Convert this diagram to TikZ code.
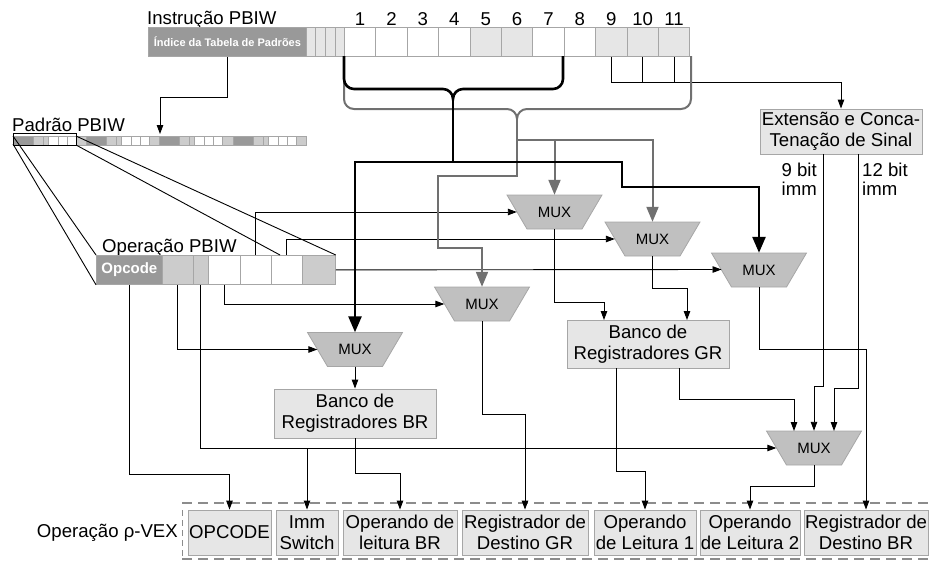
\documentclass[tikz,border=0pt]{standalone}
\usepackage{fontspec}
\setmainfont{Liberation Sans}
\usetikzlibrary{arrows.meta}
\definecolor{dk}{HTML}{999999}
\definecolor{lt}{HTML}{E6E6E6}
\definecolor{md}{HTML}{CCCCCC}
\definecolor{muxc}{HTML}{C0C0C0}
\definecolor{bd}{HTML}{A6A6A6}
\definecolor{gl}{HTML}{707070}
\definecolor{dashc}{HTML}{8C8C8C}
\newcommand\muxat[3]{%
  \filldraw[muxs] (#2-47.5,#3-17) -- (#2+47.5,#3-17) -- (#2+27.5,#3+17) -- (#2-27.5,#3+17) -- cycle;
  \node[muxn] (#1) at (#2,#3) {MUX};}
\begin{document}
\begin{tikzpicture}[x=1pt,y=-1pt,
  txt/.style={font=\fontsize{18.6}{21}\selectfont, inner sep=0},
  fld/.style={draw=bd, line width=0.8pt, inner sep=0, anchor=north west},
  boxs/.style={draw=bd, fill=lt, line width=0.9pt, inner sep=0, font=\fontsize{18.6}{21}\selectfont, align=center},
  muxn/.style={inner sep=0, minimum width=95pt, minimum height=34pt, font=\fontsize{15}{18}\selectfont},
  muxs/.style={fill=muxc, draw=bd, line width=0.8pt},
  ln/.style={line width=0.9pt},
  arr/.style={ln, -{Triangle[length=9pt,width=6.5pt]}},
  blk/.style={line width=2.6pt},
  blkarr/.style={blk, -{Triangle[length=16pt,width=13pt]}},
  gry/.style={line width=2pt, draw=gl},
  gryarr/.style={gry, -{Triangle[length=15pt,width=12pt]}},
  dsh/.style={draw=dashc, line width=2.4pt, dash pattern=on 10pt off 6pt}]
\useasboundingbox (0,0) rectangle (932,560);

% ---------- Instruction PBIW ----------
\node[txt, anchor=base west] (tinst) at (147,24) {Instrução PBIW};
\node[fld, fill=dk, minimum width=158pt, minimum height=29pt, text=white,
      font=\fontsize{11}{13}\selectfont\bfseries] (idx) at (148,27) {Índice da Tabela de Padrões};
\node[fld, fill=lt, minimum width=9pt, minimum height=29pt] (c1) at (306,27) {};
\node[fld, fill=lt, minimum width=10pt, minimum height=29pt] (c2) at (315,27) {};
\node[fld, fill=lt, minimum width=10pt, minimum height=29pt] (c3) at (325,27) {};
\node[fld, fill=lt, minimum width=9pt, minimum height=29pt] (c4) at (335,27) {};
\foreach \i/\c in {1/white,2/white,3/white,4/white,5/lt,6/lt,7/white,8/white,9/lt,10/lt,11/lt}{
  \pgfmathsetmacro\xl{344+31.4*(\i-1)}
  \node[fld, fill=\c, minimum width=31.4pt, minimum height=29pt] (f\i) at (\xl,27) {};
  \node[txt, anchor=base] (n\i) at ([yshift=2pt]f\i.north) {\i};
}

% ---------- Padrão PBIW ----------
\node[txt, anchor=base west] (tpad) at (12,131) {Padrão PBIW};
\node[inner sep=0, minimum width=293pt, minimum height=9pt, anchor=north west] (pbar) at (13,136) {};
\foreach \k in {0,1,2,3}{
  \pgfmathsetmacro\s{13+73.25*\k}
  \foreach \a/\b/\c in {0/20/dk,20/30/md,30/35/md,35/45/white,45/54/white,54/63/white,63/73.25/md}{
    \filldraw[draw=bd, line width=0.5pt, fill=\c] (\s+\a,136) rectangle (\s+\b,145);
  }
}
\draw[line width=0.9pt] (13,133) rectangle (76,145);
\coordinate (pbin) at (160,134);

% ---------- Operação PBIW ----------
\node[txt, anchor=base west] (topr) at (102,252) {Operação PBIW};
\node[fld, fill=dk, minimum width=66pt, minimum height=29pt, text=white,
      font=\fontsize{15}{17}\selectfont\bfseries] (op0) at (96,255) {Opcode};
\node[fld, fill=md, minimum width=31pt, minimum height=29pt] (op1) at (162,255) {};
\node[fld, fill=md, minimum width=15pt, minimum height=29pt] (op2) at (193,255) {};
\node[fld, fill=white, minimum width=32pt, minimum height=29pt] (op3) at (208,255) {};
\node[fld, fill=white, minimum width=31pt, minimum height=29pt] (op4) at (240,255) {};
\node[fld, fill=white, minimum width=31pt, minimum height=29pt] (op5) at (271,255) {};
\node[fld, fill=md, minimum width=33pt, minimum height=29pt] (op6) at (302,255) {};

\draw[ln] (13,136) -- (op0.north west);
\draw[ln] (13,144) -- (op0.south west);
\draw[ln] (76,136) -- (op6.north east);
\draw[ln] (76,145) -- (280,255);

% ---------- boxes ----------
\node[boxs, minimum width=162pt, minimum height=45pt] (ext) at (841,131.5) {Extensão e Conca-\\Tenação de Sinal};
\node[boxs, minimum width=162pt, minimum height=48pt] (gr) at (648,344) {Banco de\\Registradores GR};
\node[boxs, minimum width=162pt, minimum height=49pt] (br) at (355,413.5) {Banco de\\Registradores BR};

\node[txt, anchor=base east] (t9a) at (817,176) {9 bit};
\node[txt, anchor=base east] (t9b) at (817,195) {imm};
\node[txt, anchor=base west] (t12a) at (862,176) {12 bit};
\node[txt, anchor=base west] (t12b) at (862,195) {imm};

% ---------- MUXes ----------
\muxat{m1}{554.5}{212}
\muxat{m2}{652.5}{239}
\muxat{m3}{759}{270}
\muxat{m4}{482}{304}
\muxat{m5}{355}{349.5}
\muxat{m6}{814}{448}

% ---------- bottom row ----------
\draw[dsh] (182,503) -- (932,503);
\draw[dsh] (182,559) -- (932,559);
\draw[draw=dashc, line width=1pt, dash pattern=on 6pt off 4pt] (182,510) -- (182,556);
\node[txt, anchor=base east] (tvex) at (178,537) {Operação ρ-VEX};
\node[boxs, minimum width=83pt, minimum height=45pt] (opc) at (229.5,532.5) {OPCODE};
\node[boxs, minimum width=62pt, minimum height=45pt] (imm) at (307,532.5) {Imm\\Switch};
\node[boxs, minimum width=114pt, minimum height=45pt] (olbr) at (400,532.5) {Operando de\\leitura BR};
\node[boxs, minimum width=126pt, minimum height=45pt] (rdgr) at (525,532.5) {Registrador de\\Destino GR};
\node[boxs, minimum width=102pt, minimum height=45pt] (ol1) at (645,532.5) {Operando\\de Leitura 1};
\node[boxs, minimum width=100pt, minimum height=45pt] (ol2) at (750,532.5) {Operando\\de Leitura 2};
\node[boxs, minimum width=124pt, minimum height=45pt] (rdbr) at (866,532.5) {Registrador de\\Destino BR};

% ---------- thin connectors ----------
\draw[arr] (idx.south) |- (160,97) -- (pbin);
\coordinate (jn) at (841,82);
\draw[ln] (f9.south) |- (jn);
\draw[ln] (f10.south) -- (f10.south |- jn);
\draw[ln] (f11.south) -- (f11.south |- jn);
\draw[arr] (jn) -- (ext.north);

\draw[arr] (op4.north) |- ([xshift=10pt]m1.west);
\draw[arr] (op5.north) |- ([xshift=10pt]m2.west);
\draw[arr] (op6.east) -- (721.5,269.5);
\draw[arr] (op3.south) |- ([xshift=10pt]m4.west);
\draw[arr] (op1.south) |- ([xshift=10pt]m5.west);
\draw[arr] (op2.south) |- ([xshift=10pt]m6.west);
\draw[arr] (imm.north |- m6.west) -- (imm.north);
\draw[arr] (op0.south) |- (opc.north |- 0,474) -- (opc.north);

\coordinate (gin1) at (604,320);
\coordinate (gin2) at (687,320);
\draw[arr] (m1.south) |- (604,302) -- (gin1);
\draw[arr] (m2.south) |- (687,288) -- (gin2);
\draw[arr] (m3.south) |- (rdbr.north |- 0,349) -- (rdbr.north);
\draw[arr] (m4.south) |- (rdgr.north |- 0,414) -- (rdgr.north);
\draw[arr] (m5.south) -- (br.north);
\draw[arr] (m6.south) |- (ol2.north |- 0,486) -- (ol2.north);

\coordinate (gout1) at (616,368);
\coordinate (gout2) at (679.5,368);
\draw[arr] (gout1) |- (ol1.north |- 0,471) -- (ol1.north);
\draw[arr] (gout2) |- (794,399) -- (794,431);
\draw[arr] (br.south) |- (olbr.north |- 0,473) -- (olbr.north);
\draw[arr] (ext.south -| 823,0) |- (814,386) -- (m6.north);
\draw[arr] (ext.south -| 858,0) |- (834,388) -- (834,431);

% ---------- gray brace and routes ----------
\draw[gry] (344,79) -- (344,99) to[out=-90,in=180] (354,109) -- (507,109)
  to[out=0,in=90] (517,119) to[out=90,in=180] (527,109) -- (681,109)
  to[out=0,in=-90] (691,99) -- (691,56);
\draw[gry] (517,119) -- (517,140);
\draw[gryarr] (517,140) -| (m1.north);
\draw[gryarr] (517,140) -| (m2.north);
\draw[gryarr] (517,140) -- (517,176) -| (438,248) -| (m4.north);

% ---------- black brace and routes ----------
\draw[blk] (344,56) -- (344,79) to[out=-90,in=180] (354,89) -- (443,89)
  to[out=0,in=90] (453,99) to[out=90,in=180] (463,89) -- (553,89)
  to[out=0,in=-90] (563,79) -- (563,56);
\draw[blk] (453,99) -- (453,162);
\draw[blkarr] (453,162) -| (m5.north);
\draw[blkarr] (453,162) -- (622,162) |- (759,187) -- (m3.north);
\end{tikzpicture}
\end{document}
